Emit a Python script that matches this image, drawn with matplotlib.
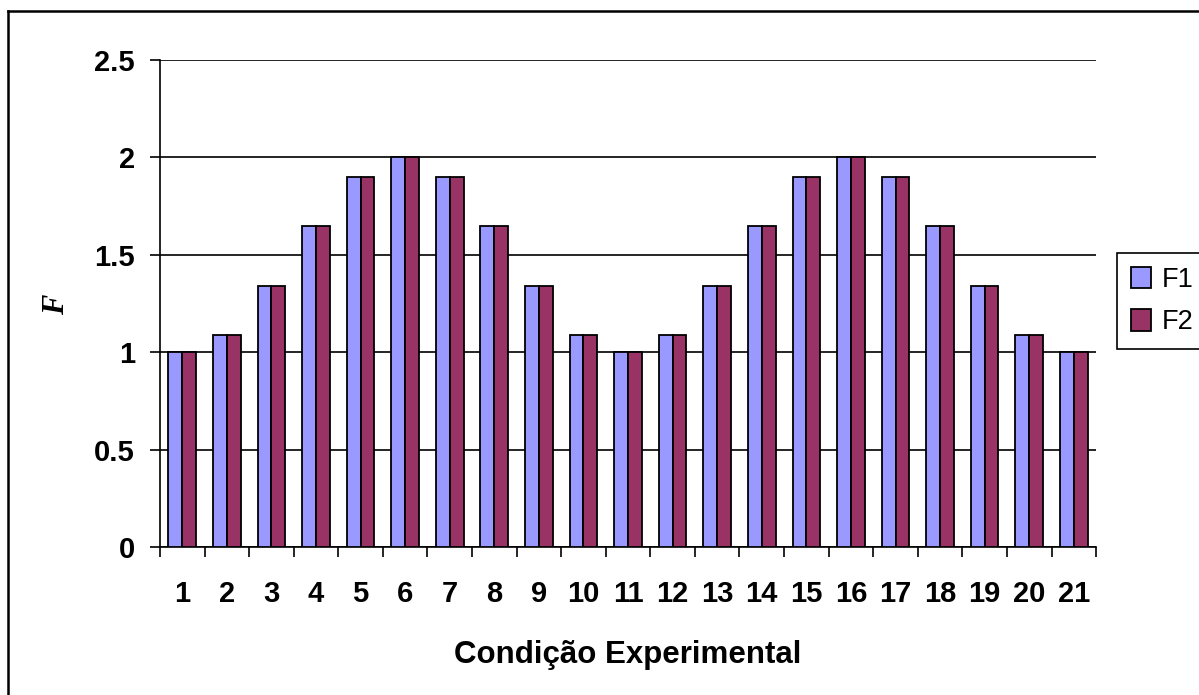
import matplotlib

matplotlib.use("Agg")
import matplotlib.pyplot as plt
import numpy as np
from matplotlib.lines import Line2D

conditions = [str(i) for i in range(1, 22)]
f1 = [1.0, 1.09, 1.34, 1.65, 1.9, 2.0, 1.9, 1.65, 1.34, 1.09, 1.0,
      1.09, 1.34, 1.65, 1.9, 2.0, 1.9, 1.65, 1.34, 1.09, 1.0]
f2 = [1.0, 1.09, 1.34, 1.65, 1.9, 2.0, 1.9, 1.65, 1.34, 1.09, 1.0,
      1.09, 1.34, 1.65, 1.9, 2.0, 1.9, 1.65, 1.34, 1.09, 1.0]
series_names = ["F1", "F2"]
y_ticks = [0, 0.5, 1, 1.5, 2, 2.5]
y_tick_labels = ["0", "0.5", "1", "1.5", "2", "2.5"]


def main():
    plt.rcParams["font.family"] = ["Liberation Sans", "DejaVu Sans"]
    fig = plt.figure(figsize=(11.99, 6.95), dpi=100)
    ax = fig.add_axes([0.1334, 0.2129, 0.7808, 0.7008])

    x = np.arange(1, len(conditions) + 1)
    width = 0.31
    ax.set_axisbelow(True)
    ax.bar(x - width / 2, f1, width, color="#9999ff", edgecolor="black", linewidth=1.3, label=series_names[0], zorder=3)
    ax.bar(x + width / 2, f2, width, color="#993366", edgecolor="black", linewidth=1.3, label=series_names[1], zorder=3)

    ax.set_xlim(0.5, len(conditions) + 0.5)
    ax.set_ylim(0, 2.5)
    ax.set_yticks(y_ticks, y_tick_labels)
    ax.yaxis.grid(True, color="black", linewidth=1.2)
    ax.tick_params(axis="y", direction="out", length=7, width=1.2, pad=11, labelsize=21)
    for lab in ax.get_yticklabels():
        lab.set_fontweight("bold")

    # ticks between categories, labels at category centres
    ax.set_xticks(np.arange(0.5, len(conditions) + 1, 1.0))
    ax.set_xticklabels([])
    ax.set_xticks(x, conditions, minor=True)
    ax.tick_params(axis="x", which="major", direction="out", length=7, width=1.2)
    ax.tick_params(axis="x", which="minor", length=0, pad=24, labelsize=21)
    for lab in ax.get_xticklabels(minor=True):
        lab.set_fontweight("bold")

    for side in ("top", "right"):
        ax.spines[side].set_visible(False)
    for side in ("left", "bottom"):
        ax.spines[side].set_linewidth(1.2)

    ax.set_xlabel("Condição Experimental", fontsize=22.5, fontweight="bold", va="center")
    ax.xaxis.set_label_coords(0.5, -0.222)
    ax.set_ylabel("F", fontsize=22, fontweight="bold", fontstyle="italic",
                  family=["Liberation Serif", "DejaVu Serif"], va="center")
    ax.yaxis.set_label_coords(-0.110, 0.497)

    fig.legend(loc="center left", bbox_to_anchor=(0.9316, 0.567), fontsize=19.5,
               frameon=True, fancybox=False, edgecolor="black", framealpha=1,
               handlelength=0.75, handleheight=0.85, handletextpad=0.4,
               labelspacing=0.6, borderpad=0.5, borderaxespad=0)
    fig.legends[0].get_frame().set_linewidth(1.2)

    # outer chart border
    fig.add_artist(Line2D([0.0067, 0.0067], [0.0, 0.984], color="black", linewidth=1.8))
    fig.add_artist(Line2D([0.0067, 1.0], [0.984, 0.984], color="black", linewidth=1.8))

    fig.savefig("out.png", dpi=100, facecolor="white")


if __name__ == "__main__":
    main()
